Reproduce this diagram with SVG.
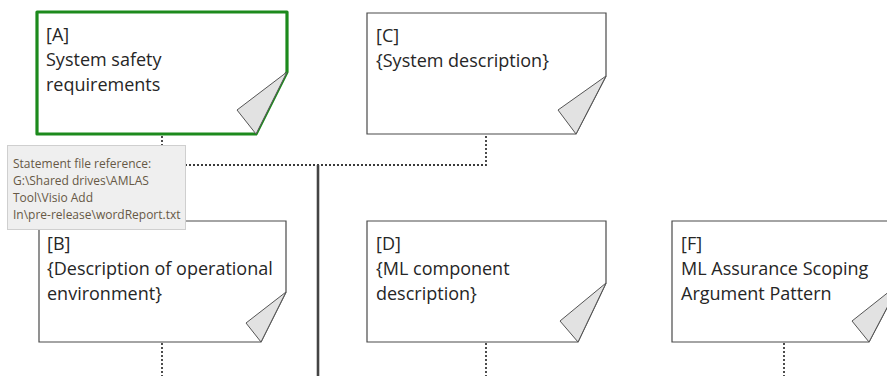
<svg xmlns="http://www.w3.org/2000/svg" width="887" height="376" viewBox="0 0 887 376">
<style>
.body{fill:#ffffff;stroke:#4a4a4a;stroke-width:1.2}
.sel{fill:#ffffff;stroke:#1c8a1c;stroke-width:3.2;stroke-linejoin:round}
.fold{fill:#e2e2e2;stroke:#555555;stroke-width:1}
.t{font-family:"Open Sans","Liberation Sans",sans-serif;font-size:18px;fill:#262626}
.dot{fill:none;stroke:#3a3a3a;stroke-width:1.8;stroke-dasharray:2 2}
.solid{fill:none;stroke:#444444;stroke-width:2.6}
.tipbox{fill:#efefef;stroke:#cfcfcf;stroke-width:1}
.tip{font-family:"Open Sans","Liberation Sans",sans-serif;font-size:12px;fill:#665845}
</style>
<g id="connectors">
<path class="dot" d="M162,136 V165 H486 V134"/>
<path class="solid" d="M318,165 V376"/>
<path class="dot" d="M162,343 V376"/>
<path class="dot" d="M486,343 V376"/>
<path class="dot" d="M784,343 V376"/>
</g>
<g id="nodeA">
<path class="sel" d="M37,12 H287 V72 L256,134 H37 Z"/>
<path class="fold" d="M287,72 L237,110 L256,134 Z"/>
<text class="t" x="46" y="41">[A]</text>
<text class="t" x="46" y="66">System safety</text>
<text class="t" x="46" y="91">requirements</text>
</g>
<g id="nodeC">
<path class="body" d="M367,13 H606 V76 L576,134 H367 Z"/>
<path class="fold" d="M606,76 L558,110 L576,134 Z"/>
<text class="t" x="376" y="42">[C]</text>
<text class="t" x="376" y="67">{System description}</text>
</g>
<g id="nodeB">
<path class="body" d="M39,221 H286 V292 L261,342 H39 Z"/>
<path class="fold" d="M286,292 L246,323 L261,342 Z"/>
<text class="t" x="47" y="250">[B]</text>
<text class="t" x="47" y="275">{Description of operational</text>
<text class="t" x="47" y="300">environment}</text>
</g>
<g id="nodeD">
<path class="body" d="M367,221 H606 V283 L578,342 H367 Z"/>
<path class="fold" d="M606,283 L560,321 L578,342 Z"/>
<text class="t" x="376" y="250">[D]</text>
<text class="t" x="376" y="275">{ML component</text>
<text class="t" x="376" y="300">description}</text>
</g>
<g id="nodeF">
<path class="body" d="M672,221 H900 V283 L869,342 H672 Z"/>
<path class="fold" d="M900,283 L852,321 L869,342 Z"/>
<text class="t" x="681" y="250">[F]</text>
<text class="t" x="681" y="275">ML Assurance Scoping</text>
<text class="t" x="681" y="300">Argument Pattern</text>
</g>
<g id="tooltip">
<rect class="tipbox" x="7.5" y="145.5" width="178" height="84"/>
<text class="tip" x="13" y="168">Statement file reference:</text>
<text class="tip" x="13" y="185">G:\Shared drives\AMLAS</text>
<text class="tip" x="13" y="202">Tool\Visio Add</text>
<text class="tip" x="13" y="219">In\pre-release\wordReport.txt</text>
</g>
</svg>
